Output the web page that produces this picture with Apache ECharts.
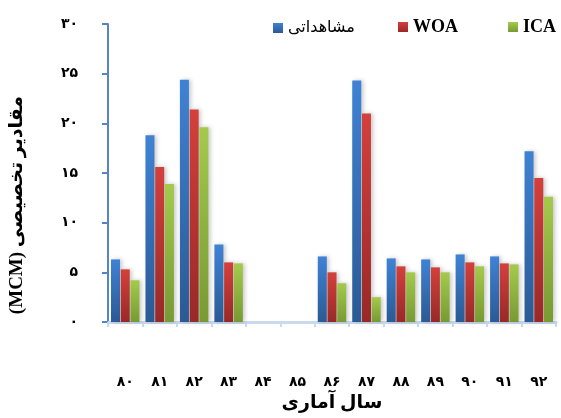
<!DOCTYPE html>
<html>
<head>
<meta charset="utf-8">
<script src="https://cdn.jsdelivr.net/npm/echarts@6/dist/echarts.min.js"></script>
<style>
  html, body { margin: 0; padding: 0; background: #ffffff; }
  #chart { width: 561px; height: 418px; }
</style>
</head>
<body>
<div id="chart"></div>
<script>
// Statistical years (Persian digits)
const years = ['۸۰', '۸۱', '۸۲', '۸۳', '۸۴', '۸۵', '۸۶', '۸۷', '۸۸', '۸۹', '۹۰', '۹۱', '۹۲'];

// Allocated volumes (MCM)
const observed = [6.3, 18.8, 24.4, 7.8, 0, 0, 6.6, 24.3, 6.4, 6.3, 6.8, 6.6, 17.2];
const woa      = [5.3, 15.6, 21.4, 6.0, 0, 0, 5.0, 21.0, 5.6, 5.5, 6.0, 5.9, 14.5];
const ica      = [4.2, 13.9, 19.6, 5.9, 0, 0, 3.9, 2.5, 5.0, 5.0, 5.6, 5.8, 12.6];

// Value-axis tick labels, one per step of 5
const yTickLabels = ['۰', '۵', '۱۰', '۱۵', '۲۰', '۲۵', '۳۰'];

const seriesNames = ['مشاهداتی', 'WOA', 'ICA'];

function grad(top, bottom) {
  return new echarts.graphic.LinearGradient(0, 0, 0, 1, [
    { offset: 0, color: top },
    { offset: 1, color: bottom }
  ]);
}

const palette = [
  ['#3f82d4', '#2b5a94'],
  ['#d4403c', '#982927'],
  ['#a4ca4c', '#779a33']
];

const textFont = "'Liberation Serif', 'DejaVu Sans', serif";
const digitFont = "'DejaVu Sans', sans-serif";

function makeSeries(name, values, idx) {
  return {
    name: name,
    type: 'bar',
    data: values,
    barWidth: 9,
    barGap: '8%',
    itemStyle: {
      color: grad(palette[idx][0], palette[idx][1]),
      shadowColor: 'rgba(0,0,0,0.22)',
      shadowBlur: 4,
      shadowOffsetX: 2,
      shadowOffsetY: 0
    },
    emphasis: { disabled: true }
  };
}

function legendAt(left, top, name, size, weight) {
  return {
    data: [name],
    left: left,
    top: top,
    itemWidth: 10,
    itemHeight: 10,
    itemGap: 0,
    icon: 'rect',
    selectedMode: false,
    textStyle: {
      fontFamily: textFont,
      fontWeight: weight,
      fontSize: size,
      color: '#000'
    }
  };
}

const chart = echarts.init(document.getElementById('chart'), null, { renderer: 'canvas' });

chart.setOption({
  animation: false,
  backgroundColor: '#ffffff',
  legend: [
    legendAt(268, 15, seriesNames[0], 16, 'normal'),
    legendAt(393, 13, seriesNames[1], 18, 'bold'),
    legendAt(503, 13, seriesNames[2], 18, 'bold')
  ],
  color: [palette[0][0], palette[1][0], palette[2][0]],
  grid: { left: 106, right: 5, top: 24, bottom: 82, containLabel: false },
  xAxis: {
    type: 'category',
    data: years,
    name: 'سال آماری',
    nameLocation: 'middle',
    nameGap: 72,
    nameTextStyle: { fontFamily: textFont, fontWeight: 'bold', fontSize: 19, color: '#000' },
    axisLine: { lineStyle: { color: '#c9d9ee', width: 3 } },
    axisTick: { show: true, length: 5, lineStyle: { color: '#c9d9ee', width: 2 } },
    axisLabel: {
      margin: 53,
      fontFamily: digitFont,
      fontWeight: 'bold',
      fontSize: 14,
      color: '#000'
    }
  },
  yAxis: {
    type: 'value',
    min: 0,
    max: 30,
    interval: 5,
    // written with the unit first so the rotated title reads (MCM) at the bottom
    name: '(MCM) مقادیر تخصیصی',
    nameLocation: 'middle',
    nameRotate: 90,
    nameGap: 81,
    nameTextStyle: {
      fontFamily: textFont,
      fontWeight: 'bold',
      fontSize: 19,
      color: '#000',
      padding: [0, 64, 0, 0]
    },
    axisLine: { show: true, lineStyle: { color: '#5585c6', width: 2 } },
    axisTick: { show: true, length: 6, lineStyle: { color: '#5585c6', width: 2 } },
    splitLine: { show: false },
    axisLabel: {
      margin: 30,
      fontFamily: digitFont,
      fontWeight: 'bold',
      fontSize: 14,
      color: '#000',
      formatter: function (v) { return yTickLabels[Math.round(v / 5)]; }
    }
  },
  series: [
    makeSeries(seriesNames[0], observed, 0),
    makeSeries(seriesNames[1], woa, 1),
    makeSeries(seriesNames[2], ica, 2)
  ]
});
</script>
</body>
</html>
